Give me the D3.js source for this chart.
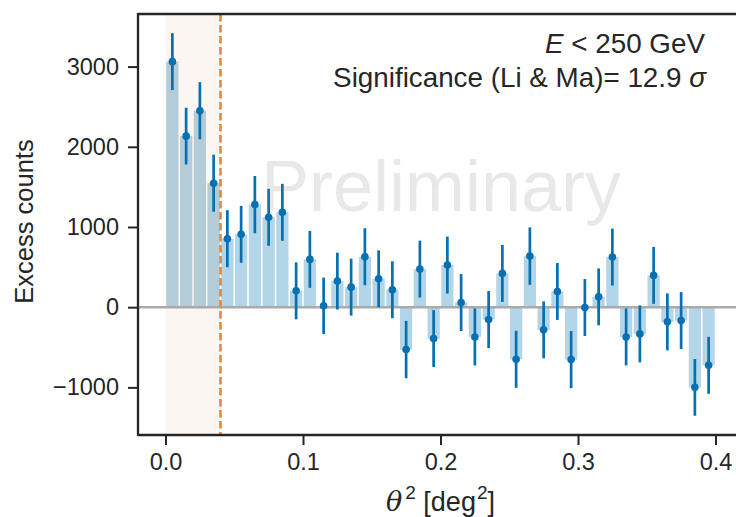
<!DOCTYPE html>
<html>
<head>
<meta charset="utf-8">
<script src="https://cdn.jsdelivr.net/npm/d3@7"></script>
<style>
  html, body { margin: 0; padding: 0; background: #ffffff; }
  svg { display: block; }
  text { font-family: "Liberation Sans", Arial, sans-serif; }
</style>
</head>
<body>
<svg id="chart" width="736" height="517"></svg>
<script>
// ---- data ----
const binCenters = [0.005,0.015,0.025,0.035,0.045,0.055,0.065,0.075,0.085,0.095,
                    0.105,0.115,0.125,0.135,0.145,0.155,0.165,0.175,0.185,0.195,
                    0.205,0.215,0.225,0.235,0.245,0.255,0.265,0.275,0.285,0.295,
                    0.305,0.315,0.325,0.335,0.345,0.355,0.365,0.375,0.385,0.395];
const excess = [3062, 2133, 2450, 1546, 854, 908, 1279, 1121, 1183, 204,
                596, 17, 325, 250, 629, 354, 217, -529, 475, -392,
                525, 58, -371, -154, 421, -650, 637, -283, 196, -654,
                -4, 129, 625, -371, -333, 396, -183, -167, -1000, -725];
const errors = [355, 354, 356, 356, 356, 355, 357, 355, 355, 355,
                355, 352, 354, 355, 355, 355, 355, 358, 355, 355,
                355, 355, 355, 355, 355, 356, 358, 355, 355, 356,
                355, 355, 355, 355, 355, 355, 355, 355, 354, 355];
const binWidth = 0.01;
const thetaCut = 0.04;
const xTicks = [0.0, 0.1, 0.2, 0.3, 0.4];
const yTicks = [-1000, 0, 1000, 2000, 3000];
const xDomain = [-0.02, 0.42];
const yDomain = [-1594, 3656];

(function () {
// ---- layout ----
const svg = d3.select("#chart");
const pl = 138, pt = 14, pb = 435, pr = 743;
const x = d3.scaleLinear().domain(xDomain).range([pl, pr]);
const y = d3.scaleLinear().domain(yDomain).range([pb, pt]);

const blue = "#0670b0";
const orange = "#e0883f";

// shaded on-region
svg.append("rect")
  .attr("x", x(0)).attr("y", pt)
  .attr("width", x(thetaCut) - x(0)).attr("height", pb - pt)
  .attr("fill", "#be6e28").attr("fill-opacity", 0.06);

// bars
const bw = x(binWidth) - x(0);
svg.append("g").selectAll("rect").data(binCenters).join("rect")
  .attr("x", d => x(d) - bw / 2 + 0.75)
  .attr("width", bw - 1.5)
  .attr("y", (d, i) => Math.min(y(excess[i]), y(0)))
  .attr("height", (d, i) => Math.abs(y(excess[i]) - y(0)))
  .attr("fill", d => d < thetaCut ? "#126a9b" : "#0173b2")
  .attr("fill-opacity", 0.3);

// zero line
svg.append("line")
  .attr("x1", pl).attr("x2", pr)
  .attr("y1", y(0)).attr("y2", y(0))
  .attr("stroke", "#aaaaaa").attr("stroke-width", 2.5);

// dashed cut line
svg.append("line")
  .attr("x1", x(thetaCut)).attr("x2", x(thetaCut))
  .attr("y1", pt).attr("y2", pb)
  .attr("stroke", orange).attr("stroke-width", 2.6)
  .attr("stroke-dasharray", "7.5,3.5");

// error bars
svg.append("g").selectAll("line").data(binCenters).join("line")
  .attr("x1", d => x(d)).attr("x2", d => x(d))
  .attr("y1", (d, i) => y(excess[i] + errors[i]))
  .attr("y2", (d, i) => y(excess[i] - errors[i]))
  .attr("stroke", blue).attr("stroke-width", 2.7);

// points
svg.append("g").selectAll("circle").data(binCenters).join("circle")
  .attr("cx", d => x(d))
  .attr("cy", (d, i) => y(excess[i]))
  .attr("r", 3.8)
  .attr("fill", blue);

// watermark
svg.append("text")
  .attr("x", 441).attr("y", 211)
  .attr("text-anchor", "middle")
  .attr("font-size", 72)
  .attr("fill", "#808080").attr("fill-opacity", 0.18)
  .text("Preliminary");

// annotation
const ann = svg.append("text")
  .attr("text-anchor", "end")
  .attr("font-size", 27.8)
  .attr("fill", "#262626");
const l1 = ann.append("tspan").attr("x", 705).attr("y", 53);
l1.append("tspan").attr("font-style", "italic").text("E");
l1.append("tspan").text(" < 250 GeV");
const l2 = ann.append("tspan").attr("x", 706).attr("y", 87);
l2.append("tspan").text("Significance (Li & Ma)= 12.9 ");
l2.append("tspan").attr("font-style", "italic").text("σ");

// axes
const xAxis = d3.axisBottom(x).tickValues(xTicks).tickFormat(d3.format(".1f"))
  .tickSizeInner(10).tickSizeOuter(0).tickPadding(8);
const yAxis = d3.axisLeft(y).tickValues(yTicks).tickFormat(d3.format("d"))
  .tickSizeInner(10).tickSizeOuter(0).tickPadding(9);

const gx = svg.append("g").attr("transform", `translate(0,${pb})`).call(xAxis);
const gy = svg.append("g").attr("transform", `translate(${pl},0)`).call(yAxis);
[gx, gy].forEach(g => {
  g.select(".domain").remove();
  g.selectAll(".tick line").attr("stroke", "#262626").attr("stroke-width", 2);
  g.selectAll(".tick text").attr("fill", "#262626").attr("font-size", 23.5)
    .attr("font-family", "Liberation Sans, Arial, sans-serif");
});
gx.selectAll(".tick text").attr("dy", "0.71em");

// spines
const spine = svg.append("g").attr("stroke", "#262626").attr("stroke-width", 2.3).attr("fill", "none");
spine.append("line").attr("x1", pl).attr("x2", pl).attr("y1", pt - 1).attr("y2", pb + 1);
spine.append("line").attr("x1", pl).attr("x2", pr).attr("y1", pb).attr("y2", pb);
spine.append("line").attr("x1", pl).attr("x2", pr).attr("y1", pt).attr("y2", pt);
spine.append("line").attr("x1", pr).attr("x2", pr).attr("y1", pt).attr("y2", pb);

// axis labels
const xl = svg.append("text")
  .attr("x", (pl + pr) / 2).attr("y", 511)
  .attr("text-anchor", "middle").attr("font-size", 27).attr("fill", "#262626");
xl.append("tspan").attr("font-style", "italic").attr("font-family", "DejaVu Serif, serif").text("θ");
xl.append("tspan").attr("font-size", 19).attr("dx", 3).attr("dy", -12).text("2");
xl.append("tspan").attr("dy", 12).text(" [deg");
xl.append("tspan").attr("font-size", 19).attr("dx", 1).attr("dy", -12).text("2");
xl.append("tspan").attr("dy", 12).text("]");

svg.append("text")
  .attr("transform", `translate(33,${(pt + pb) / 2 - 3}) rotate(-90)`)
  .attr("text-anchor", "middle").attr("font-size", 25.5).attr("fill", "#262626")
  .text("Excess counts");
})();
</script>
</body>
</html>
